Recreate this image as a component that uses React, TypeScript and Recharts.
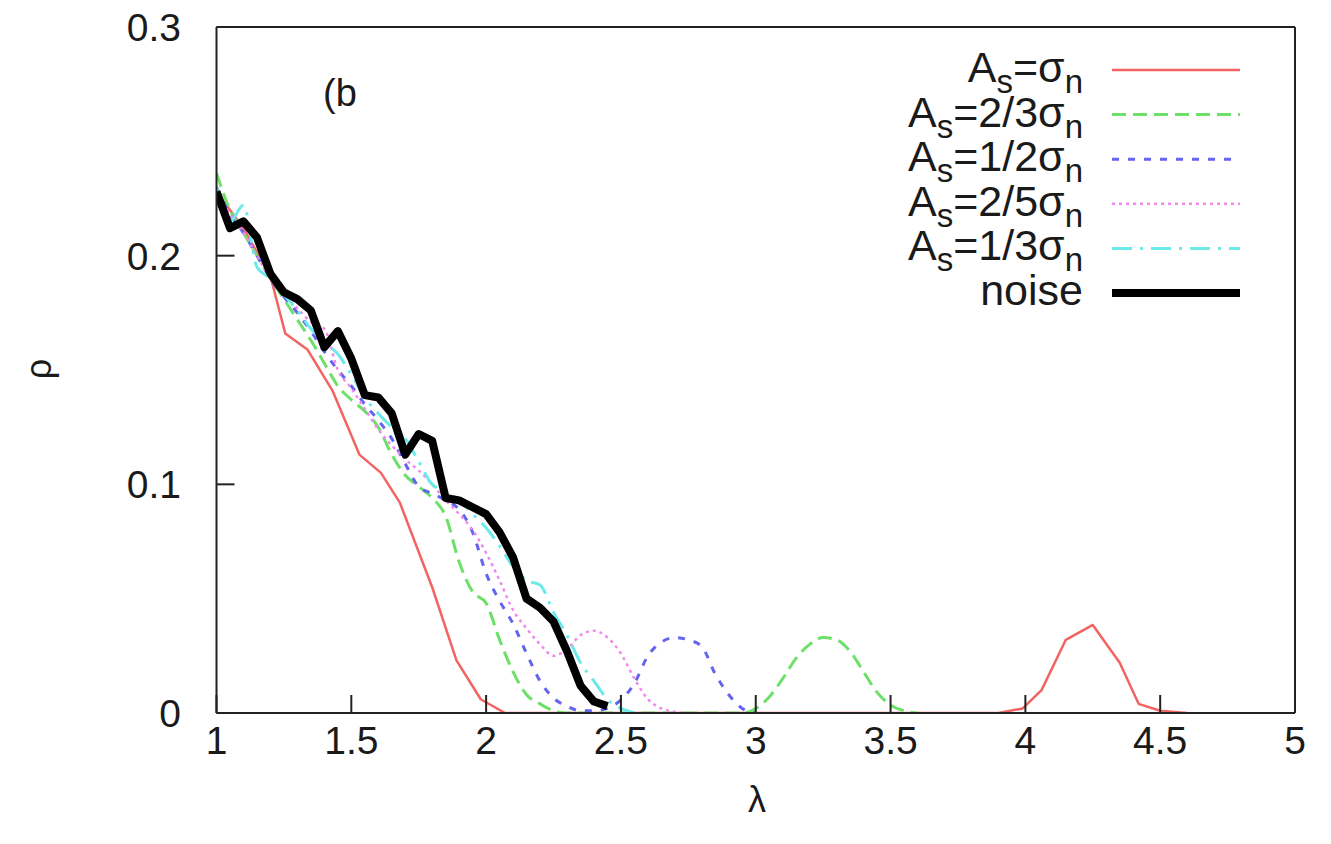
import { LineChart, Line, XAxis, YAxis } from 'recharts';

// lambda / rho readings per curve
const redLambda = [1.0, 1.1, 1.2, 1.255, 1.337, 1.43, 1.53, 1.61, 1.68, 1.8, 1.89, 1.98, 2.07, 3.9, 3.99, 4.06, 4.15, 4.25, 4.35, 4.42, 4.5, 4.6];
const redRho = [0.228, 0.212, 0.191, 0.166, 0.159, 0.141, 0.113, 0.105, 0.092, 0.055, 0.023, 0.006, 0, 0, 0.002, 0.01, 0.032, 0.0385, 0.022, 0.004, 0.001, 0];

const greenLambda = [1.0, 1.05, 1.1, 1.15, 1.2, 1.25, 1.3, 1.35, 1.4, 1.45, 1.5, 1.55, 1.6, 1.65, 1.7, 1.75, 1.8, 1.85, 1.9, 1.95, 2.0, 2.05, 2.1, 2.15, 2.2, 2.25, 2.3, 2.95, 3.0, 3.05, 3.1, 3.15, 3.2, 3.25, 3.3, 3.35, 3.4, 3.45, 3.5, 3.55, 3.6];
const greenRho = [0.236, 0.22, 0.21, 0.2, 0.19, 0.181, 0.172, 0.163, 0.153, 0.143, 0.137, 0.132, 0.125, 0.113, 0.104, 0.099, 0.094, 0.086, 0.066, 0.053, 0.048, 0.032, 0.018, 0.008, 0.004, 0.001, 0, 0, 0.002, 0.007, 0.015, 0.024, 0.03, 0.033, 0.032, 0.027, 0.018, 0.009, 0.0035, 0.001, 0];

const blueLambda = [1.0, 1.05, 1.1, 1.15, 1.2, 1.25, 1.3, 1.35, 1.4, 1.45, 1.5, 1.55, 1.6, 1.65, 1.7, 1.75, 1.8, 1.85, 1.9, 1.95, 2.0, 2.05, 2.1, 2.15, 2.2, 2.25, 2.3, 2.35, 2.4, 2.45, 2.5, 2.55, 2.6, 2.65, 2.7, 2.75, 2.8, 2.85, 2.9, 2.95, 3.0];
const blueRho = [0.23, 0.218, 0.21, 0.2, 0.19, 0.182, 0.175, 0.167, 0.158, 0.15, 0.143, 0.135, 0.128, 0.12, 0.109, 0.099, 0.096, 0.093, 0.089, 0.079, 0.061, 0.049, 0.039, 0.026, 0.014, 0.0065, 0.003, 0.001, 0.001, 0.002, 0.0057, 0.013, 0.025, 0.031, 0.033, 0.032, 0.029, 0.017, 0.008, 0.002, 0];

const magentaLambda = [1.0, 1.05, 1.1, 1.15, 1.2, 1.25, 1.3, 1.35, 1.4, 1.45, 1.5, 1.55, 1.6, 1.65, 1.7, 1.75, 1.8, 1.85, 1.9, 1.95, 2.0, 2.05, 2.1, 2.15, 2.2, 2.25, 2.3, 2.35, 2.4, 2.45, 2.5, 2.55, 2.6, 2.65, 2.7, 2.75];
const magentaRho = [0.228, 0.218, 0.21, 0.2, 0.19, 0.183, 0.177, 0.171, 0.168, 0.15, 0.142, 0.133, 0.124, 0.117, 0.111, 0.106, 0.1, 0.093, 0.087, 0.08, 0.07, 0.058, 0.045, 0.037, 0.03, 0.025, 0.028, 0.034, 0.036, 0.033, 0.026, 0.015, 0.006, 0.002, 0.0005, 0];

const cyanLambda = [1.0, 1.05, 1.1, 1.15, 1.2, 1.25, 1.3, 1.35, 1.4, 1.45, 1.5, 1.55, 1.6, 1.65, 1.7, 1.75, 1.8, 1.85, 1.9, 1.95, 2.0, 2.05, 2.1, 2.15, 2.2, 2.25, 2.3, 2.35, 2.4, 2.45, 2.5, 2.55];
const cyanRho = [0.23, 0.215, 0.222, 0.195, 0.19, 0.183, 0.176, 0.168, 0.162, 0.157, 0.148, 0.138, 0.131, 0.125, 0.12, 0.11, 0.1, 0.097, 0.093, 0.087, 0.081, 0.073, 0.064, 0.058, 0.056, 0.044, 0.034, 0.022, 0.014, 0.006, 0.002, 0];

const noiseLambda = [1.0, 1.05, 1.1, 1.15, 1.2, 1.25, 1.3, 1.35, 1.4, 1.45, 1.5, 1.55, 1.6, 1.65, 1.7, 1.75, 1.8, 1.85, 1.9, 1.95, 2.0, 2.05, 2.1, 2.15, 2.2, 2.25, 2.3, 2.35, 2.4, 2.45];
const noiseRho = [0.228, 0.212, 0.215, 0.208, 0.192, 0.184, 0.181, 0.176, 0.16, 0.167, 0.155, 0.139, 0.138, 0.131, 0.113, 0.122, 0.119, 0.094, 0.093, 0.09, 0.087, 0.079, 0.068, 0.05, 0.046, 0.04, 0.027, 0.012, 0.005, 0.003];

const xTicks = [1, 1.5, 2, 2.5, 3, 3.5, 4, 4.5, 5];
const yTicks = [0, 0.1, 0.2, 0.3];

const seriesNames = ['A_s=σ_n', 'A_s=2/3σ_n', 'A_s=1/2σ_n', 'A_s=2/5σ_n', 'A_s=1/3σ_n', 'noise'];

const zip = (xs: number[], ys: number[]) => xs.map((x, i) => ({ x, y: ys[i] }));

const series = [
  { data: zip(redLambda, redRho), color: '#f26464', width: 2.5, dash: undefined, curve: 'linear' },
  { data: zip(greenLambda, greenRho), color: '#6ee06a', width: 3, dash: '14 7', curve: 'monotone' },
  { data: zip(blueLambda, blueRho), color: '#6464f0', width: 3, dash: '7 9', curve: 'monotone' },
  { data: zip(magentaLambda, magentaRho), color: '#f088f0', width: 2.5, dash: '3 4', curve: 'monotone' },
  { data: zip(cyanLambda, cyanRho), color: '#6ceaea', width: 3, dash: '20 8 3 8', curve: 'monotone' },
  { data: zip(noiseLambda, noiseRho), color: '#000000', width: 8, dash: undefined, curve: 'linear' },
];

const FONT = '"Liberation Sans", Arial, sans-serif';
const tickStyle = { fontSize: 39, fill: '#1a1a1a', fontFamily: FONT };

function LegendLabel({ label, x, y }: { label: string; x: number; y: number }) {
  const parts: { t: string; sub: boolean }[] = [];
  for (let i = 0; i < label.length; i++) {
    if (label[i] === '_') {
      parts.push({ t: label[i + 1], sub: true });
      i++;
    } else if (parts.length && !parts[parts.length - 1].sub) {
      parts[parts.length - 1].t += label[i];
    } else {
      parts.push({ t: label[i], sub: false });
    }
  }
  let shifted = false;
  return (
    <text x={x} y={y} textAnchor="end" fontSize={43} fontFamily={FONT} fill="#1a1a1a">
      {parts.map((p, i) => {
        let dy = 0;
        if (p.sub && !shifted) { dy = 11; shifted = true; }
        else if (!p.sub && shifted) { dy = -11; shifted = false; }
        return (
          <tspan key={i} dy={dy} fontSize={p.sub ? 33 : 43}>{p.t}</tspan>
        );
      })}
    </text>
  );
}

export default function App() {
  return (
    <div style={{ position: 'absolute', left: 0, top: 0, width: 1331, height: 844, background: '#fff' }}>
      <LineChart width={1331} height={844} margin={{ top: 17, right: 26, bottom: 71, left: 136.5 }}>
        <XAxis
          dataKey="x"
          type="number"
          domain={[1, 5]}
          ticks={xTicks}
          allowDataOverflow
          height={60}
          tickSize={-18}
          tickMargin={31}
          tick={tickStyle}
          stroke="#222"
          strokeWidth={2}
        />
        <XAxis
          xAxisId="top"
          orientation="top"
          type="number"
          domain={[1, 5]}
          ticks={xTicks}
          height={10}
          tickSize={-18}
          tick={false}
          stroke="#222"
          strokeWidth={2}
        />
        <YAxis
          type="number"
          domain={[0, 0.3]}
          ticks={yTicks}
          allowDataOverflow
          width={80}
          tickSize={-18}
          tickMargin={53.5}
          tick={tickStyle}
          stroke="#222"
          strokeWidth={2}
        />
        <YAxis
          yAxisId="right"
          orientation="right"
          type="number"
          domain={[0, 0.3]}
          ticks={yTicks}
          width={10}
          tickSize={-18}
          tick={false}
          stroke="#222"
          strokeWidth={2}
        />
        {series.map((s, i) => (
          <Line
            key={i}
            data={s.data}
            dataKey="y"
            type={s.curve as any}
            stroke={s.color}
            strokeWidth={s.width}
            strokeDasharray={s.dash}
            strokeLinejoin="round"
            dot={false}
            activeDot={false}
            isAnimationActive={false}
          />
        ))}
      </LineChart>
      <svg width={1331} height={844} style={{ position: 'absolute', left: 0, top: 0, pointerEvents: 'none' }}>
        <text x={323} y={106} fontSize={38} fontFamily={FONT} fill="#1a1a1a">(b</text>
        <text
          x={38}
          y={369}
          fontSize={36}
          fontFamily={FONT}
          fill="#1a1a1a"
          textAnchor="middle"
          dominantBaseline="central"
          transform="rotate(-90 38 369)"
        >
          ρ
        </text>
        <text x={757} y={812} fontSize={36} fontFamily={FONT} fill="#1a1a1a" textAnchor="middle">λ</text>
        {seriesNames.map((name, i) => {
          const s = series[i];
          const cy = 70 + i * 44.6;
          return (
            <g key={name}>
              <LegendLabel label={name} x={1083} y={cy + 12} />
              <line
                x1={1112}
                x2={1240}
                y1={cy}
                y2={cy}
                stroke={s.color}
                strokeWidth={s.width}
                strokeDasharray={s.dash}
              />
            </g>
          );
        })}
      </svg>
    </div>
  );
}
